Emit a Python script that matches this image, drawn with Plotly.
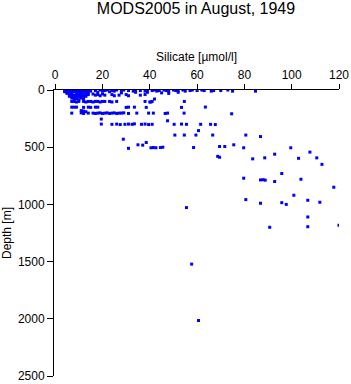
import plotly.graph_objects as go

# Silicate [µmol/l] and depth [m] pairs
silicate = [
    4,5,5,6,7,7,8,9,9,10,11,11,12,13,14,15,17,19,20,21,22,24,25,26,28,29,31,33,34,36,38,39,41,42,43,44,46,47,48,50,51,52,54,55,57,58,60,62,63,66,67,70,73,75,84.7,
    4,5,6,7,8,9,10,11,12,13,14,
    5,6,7,8,9,10,11,12,13,14,
    6,7,8,9,10,11,12,13,
    7,8,9,10,11,12,
    16,17,18,19,20,21,24,25,27,30,31,36,38,39,34,23,18,28,45,48,52,42,
    7,8,9,10,12,13,14,15,16,17,18,19,20,21,23,24,26,38,40,41,54.6,40.5,
    7,8,9,12,14,15,17,18,30,31,33.5,38.5,53.4,63.5,
    11,12,13,
    7,11,12,14,16,17,18,19,20,21,22,23,24,25,26,27,28,29,31,34.5,39.5,41.5,46.5,47.5,54.5,74.6,
    19.5,47.5,
    19.5,24,26,27.5,29.5,31,32.5,33.5,36.5,38,39.5,41,50.3,53.4,55.5,61.5,65.7,67.7,
    60.6,
    50.6,54.6,59.5,66.6,80.6,86.8,
    28.8,38.5,35,37,75.5,
    31,40.5,41.5,42.6,44.5,45.5,58.5,69.5,71.7,79.7,99.6,
    107.7,110.6,112.8,83.5,88.6,92.8,102.9,68.7,69.5,
    79.7,86.8,87.9,88.8,92.8,95.8,103.9,117.8,
    100.9,80.6,86.8,95.8,97.7,106.8,111.9,
    55.5,106.8,90.7,106.8,120,57.7,60.6,
]
depth = [
    5,0,10,5,0,10,5,0,10,5,0,10,5,0,5,10,5,0,10,5,0,5,10,0,5,0,5,10,0,5,10,0,5,0,10,5,0,5,10,0,5,5,0,10,5,0,5,0,5,10,5,5,0,10,10,
    15,20,15,25,15,20,15,25,20,15,25,
    30,40,35,45,30,40,35,45,30,40,
    55,50,60,50,60,55,65,55,
    70,80,75,85,70,80,
    35,45,40,50,35,45,40,50,45,40,50,45,40,20,20,15,20,25,25,30,20,79,
    100,100,105,100,100,105,100,100,105,100,100,105,100,100,100,105,100,100,105,100,100,105,
    150,150,150,152,150,152,150,150,152,150,150,152,152,149,
    180,185,190,
    202,200,205,202,202,205,202,200,205,202,200,205,202,200,205,202,202,200,205,202,202,202,205,202,202,208,
    254,269,
    298,300,298,302,300,298,300,296,300,298,302,300,300,298,300,300,300,302,
    355,
    394,394,394,394,394,407,
    430,459,479,482,479,
    510,505,503,505,503,500,503,494,494,505,505,
    543,593,650,602,593,561,597,580,588,
    771,786,784,788,800,730,780,850,
    920,958,990,985,1000,964,981,
    1028,1110,1200,1195,1183,1522,2015,
]

x_ticks = [0, 20, 40, 60, 80, 100, 120]
y_ticks = [0, 500, 1000, 1500, 2000, 2500]

FONT = "Liberation Sans, Arial, Helvetica, sans-serif"

fig = go.Figure(
    go.Scatter(
        x=silicate, y=depth, mode="markers",
        marker=dict(symbol="square", size=3, color="#0000ff", line=dict(width=0)),
        hoverinfo="x+y",
    )
)

fig.update_layout(
    width=351, height=384,
    margin=dict(l=54, r=12, t=90, b=8),
    paper_bgcolor="white", plot_bgcolor="white",
    showlegend=False,
    font=dict(family=FONT, color="black", size=12),
    title=dict(text="MODS2005 in August, 1949", x=196 / 351, xanchor="center",
               y=1 - 8 / 384, yref="container", yanchor="middle",
               font=dict(family=FONT, size=16, color="black")),
    xaxis=dict(
        side="top", range=[-0.5, 120], tickvals=x_ticks,
        ticks="outside", ticklen=5, tickcolor="black", tickwidth=1,
        showline=True, linecolor="black", linewidth=1,
        showgrid=False, zeroline=False, automargin=False,
        tickfont=dict(family=FONT, size=12, color="black"),
        title=dict(text="Silicate [µmol/l]", standoff=4,
                   font=dict(family=FONT, size=12, color="black")),
    ),
    yaxis=dict(
        range=[2500, 0], tickvals=y_ticks,
        ticks="outside", ticklen=6, tickcolor="black", tickwidth=1,
        showline=True, linecolor="black", linewidth=1,
        showgrid=False, zeroline=False, automargin=False,
        tickfont=dict(family=FONT, size=12, color="black"),
        title=dict(text="Depth [m]", standoff=6,
                   font=dict(family=FONT, size=12, color="black")),
    ),
)

fig.write_html("out.html")
